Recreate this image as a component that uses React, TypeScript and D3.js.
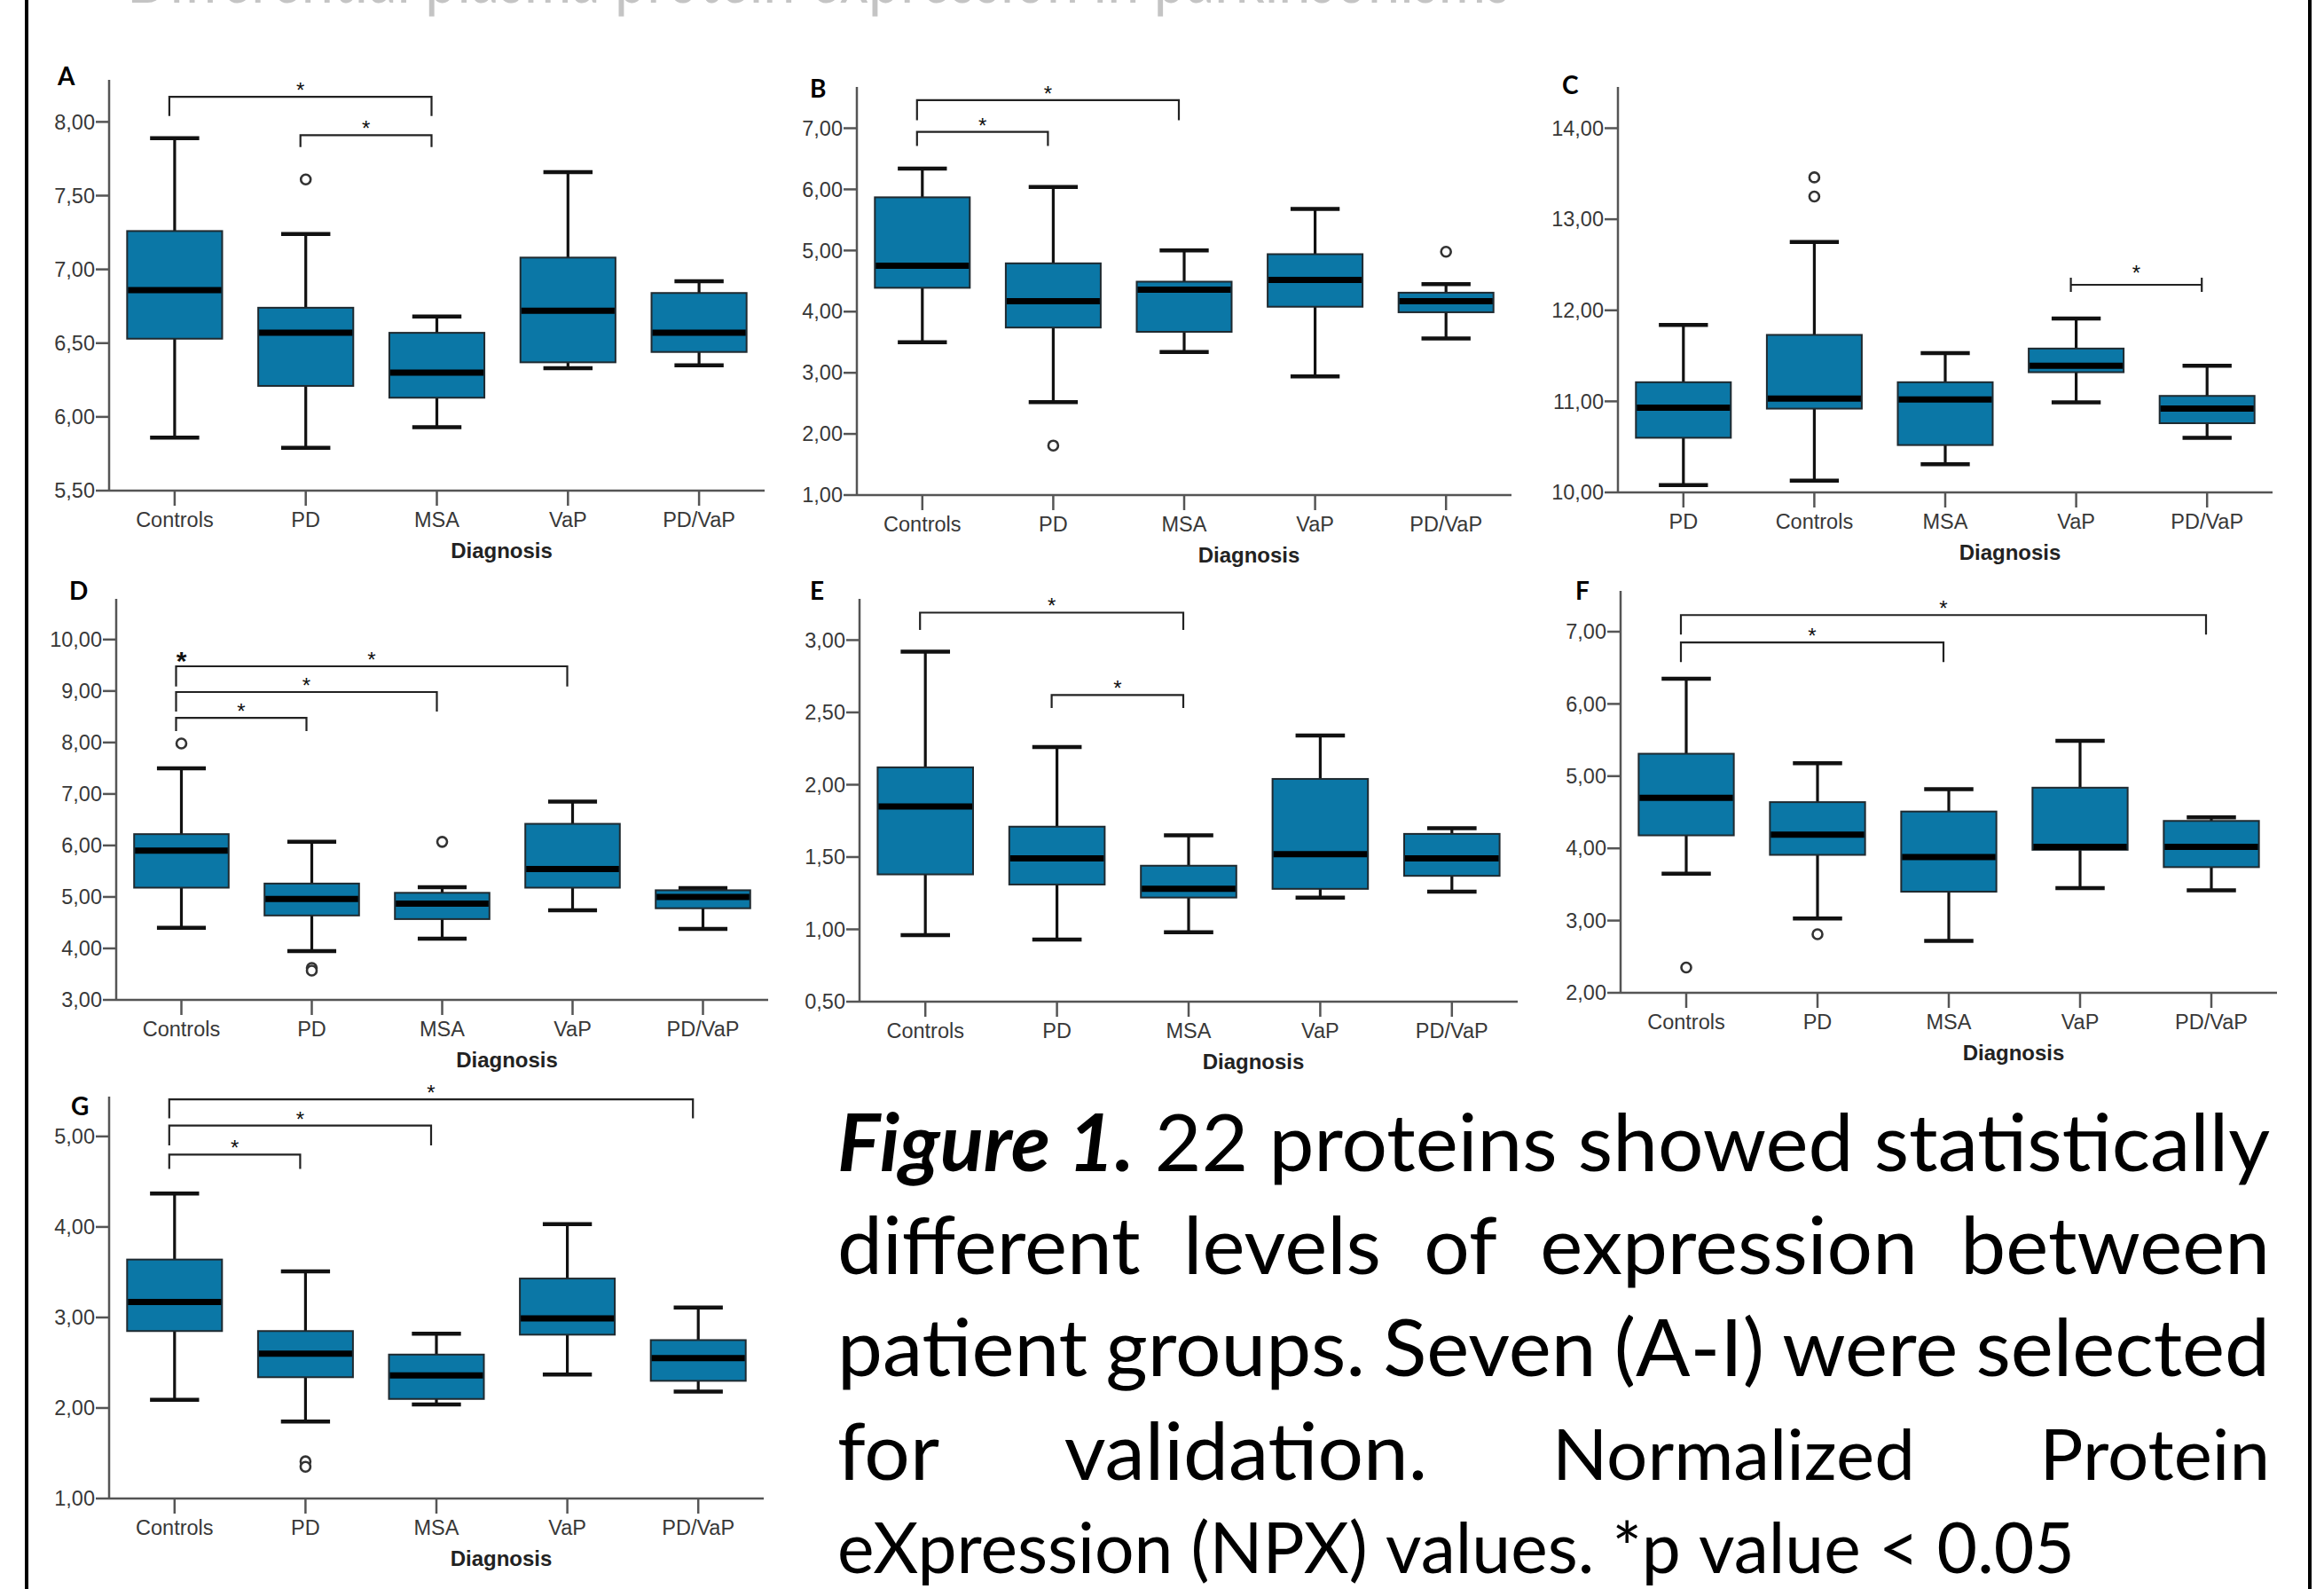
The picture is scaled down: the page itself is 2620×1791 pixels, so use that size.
import React, { useEffect, useMemo } from "react";
import * as d3 from "d3";

// ---- data -------------------------------------------------------------
const groups = ["Controls", "PD", "MSA", "VaP", "PD/VaP"];
const groupsC = ["PD", "Controls", "MSA", "VaP", "PD/VaP"];

// each row: [min, q1, median, q3, max]
const statsA = [
  [5.86, 6.53, 6.86, 7.26, 7.89],
  [5.79, 6.21, 6.57, 6.74, 7.24],
  [5.93, 6.13, 6.3, 6.57, 6.68],
  [6.33, 6.37, 6.72, 7.08, 7.66],
  [6.35, 6.44, 6.57, 6.84, 6.92],
];
const statsB = [
  [3.5, 4.39, 4.75, 5.87, 6.34],
  [2.52, 3.74, 4.17, 4.79, 6.04],
  [3.34, 3.67, 4.36, 4.49, 5.0],
  [2.94, 4.08, 4.52, 4.94, 5.68],
  [3.56, 3.99, 4.17, 4.31, 4.45],
];
const statsC = [
  [10.08, 10.6, 10.93, 11.21, 11.84],
  [10.13, 10.92, 11.03, 11.73, 12.75],
  [10.31, 10.52, 11.02, 11.21, 11.53],
  [10.99, 11.32, 11.39, 11.58, 11.91],
  [10.6, 10.76, 10.92, 11.06, 11.39],
];
const statsD = [
  [4.4, 5.18, 5.9, 6.22, 7.5],
  [3.95, 4.64, 4.96, 5.26, 6.07],
  [4.19, 4.57, 4.87, 5.08, 5.19],
  [4.74, 5.18, 5.54, 6.42, 6.85],
  [4.38, 4.78, 5.0, 5.13, 5.17],
];
const statsE = [
  [0.96, 1.38, 1.85, 2.12, 2.92],
  [0.93, 1.31, 1.49, 1.71, 2.26],
  [0.98, 1.22, 1.28, 1.44, 1.65],
  [1.22, 1.28, 1.52, 2.04, 2.34],
  [1.26, 1.37, 1.49, 1.66, 1.7],
];
const statsF = [
  [3.65, 4.18, 4.7, 5.31, 6.35],
  [3.03, 3.91, 4.19, 4.64, 5.18],
  [2.72, 3.4, 3.88, 4.51, 4.82],
  [3.45, 3.98, 4.02, 4.84, 5.49],
  [3.42, 3.74, 4.02, 4.38, 4.43],
];
const statsG = [
  [2.09, 2.85, 3.17, 3.64, 4.37],
  [1.85, 2.34, 2.6, 2.85, 3.51],
  [2.04, 2.1, 2.36, 2.59, 2.82],
  [2.37, 2.81, 2.99, 3.43, 4.03],
  [2.18, 2.3, 2.55, 2.75, 3.11],
];

const outliersA = [{ group: "PD", value: 7.61 }];
const outliersB = [{ group: "PD", value: 1.81 }, { group: "PD/VaP", value: 4.98 }];
const outliersC = [{ group: "Controls", value: 13.46 }, { group: "Controls", value: 13.25 }];
const outliersD = [
  { group: "Controls", value: 7.98 },
  { group: "PD", value: 3.62 },
  { group: "PD", value: 3.57 },
  { group: "MSA", value: 6.07 },
];
const outliersE = [];
const outliersF = [{ group: "Controls", value: 2.35 }, { group: "PD", value: 2.81 }];
const outliersG = [{ group: "PD", value: 1.41 }, { group: "PD", value: 1.35 }];

// significance brackets: line level and where the legs end
const bracketsA = [
  { from: "Controls", to: "MSA", level: 8.17, leg: 8.04 },
  { from: "PD", to: "MSA", level: 7.91, leg: 7.83 },
];
const bracketsB = [
  { from: "Controls", to: "MSA", level: 7.46, leg: 7.13 },
  { from: "Controls", to: "PD", level: 6.94, leg: 6.71 },
];
const bracketsC = [{ from: "VaP", to: "PD/VaP", level: 12.28, leg: 12.28 }];
const bracketsD = [
  { from: "Controls", to: "VaP", level: 9.48, leg: 9.09 },
  { from: "Controls", to: "MSA", level: 8.98, leg: 8.6 },
  { from: "Controls", to: "PD", level: 8.48, leg: 8.22 },
];
const bracketsE = [
  { from: "Controls", to: "MSA", level: 3.19, leg: 3.07 },
  { from: "PD", to: "MSA", level: 2.62, leg: 2.53 },
];
const bracketsF = [
  { from: "Controls", to: "PD/VaP", level: 7.23, leg: 6.96 },
  { from: "Controls", to: "MSA", level: 6.85, leg: 6.58 },
];
const bracketsG = [
  { from: "Controls", to: "PD/VaP", level: 5.41, leg: 5.2 },
  { from: "Controls", to: "MSA", level: 5.12, leg: 4.9 },
  { from: "Controls", to: "PD", level: 4.8, leg: 4.64 },
];
const extraStarsD = [{ group: "Controls", value: 9.69 }];

const ticksA = [5.5, 6, 6.5, 7, 7.5, 8];
const ticksB = [1, 2, 3, 4, 5, 6, 7];
const ticksC = [10, 11, 12, 13, 14];
const ticksD = [3, 4, 5, 6, 7, 8, 9, 10];
const ticksE = [0.5, 1, 1.5, 2, 2.5, 3];
const ticksF = [2, 3, 4, 5, 6, 7];
const ticksG = [1, 2, 3, 4, 5];

const captionLines = [
  ["Figure 1.", "22", "proteins", "showed", "statistically"],
  ["different", "levels", "of", "expression", "between"],
  ["patient", "groups.", "Seven", "(A-I)", "were", "selected"],
  ["for", "validation.", "Normalized", "Protein"],
  ["eXpression", "(NPX)", "values.", "*p", "value", "<", "0.05"],
];

// ---- layout -----------------------------------------------------------
const panels = [
  { label: "A", groups, stats: statsA, outliers: outliersA, brackets: bracketsA, ticks: ticksA, domain: [5.5, 8.285], x0: 123, x1: 862, yTop: 90, yBot: 553, lx: 65, ly: 96 },
  { label: "B", groups, stats: statsB, outliers: outliersB, brackets: bracketsB, ticks: ticksB, domain: [1, 7.675], x0: 966, x1: 1704, yTop: 98, yBot: 558, lx: 913, ly: 110 },
  { label: "C", groups: groupsC, stats: statsC, outliers: outliersC, brackets: bracketsC, ticks: ticksC, domain: [10, 14.453], x0: 1824, x1: 2562, yTop: 98, yBot: 555, lx: 1761, ly: 106, cap: true },
  { label: "D", groups, stats: statsD, outliers: outliersD, brackets: bracketsD, ticks: ticksD, domain: [3, 10.79], x0: 131, x1: 866, yTop: 675, yBot: 1127, lx: 78, ly: 676, stars: extraStarsD },
  { label: "E", groups, stats: statsE, outliers: outliersE, brackets: bracketsE, ticks: ticksE, domain: [0.5, 3.285], x0: 969, x1: 1711, yTop: 675, yBot: 1129, lx: 913, ly: 676 },
  { label: "F", groups, stats: statsF, outliers: outliersF, brackets: bracketsF, ticks: ticksF, domain: [2, 7.565], x0: 1827, x1: 2567, yTop: 666, yBot: 1119, lx: 1776, ly: 676 },
  { label: "G", groups, stats: statsG, outliers: outliersG, brackets: bracketsG, ticks: ticksG, domain: [1, 5.44], x0: 123, x1: 861, yTop: 1236, yBot: 1689, lx: 80, ly: 1257 },
];

const BOX_FILL = "#0b77a6";
const AXIS = "#555";
const LABEL_FONT = "'Liberation Sans', Arial, sans-serif";
const CAPTION_FONT = "Lato, 'Open Sans', sans-serif";
const fmt = (v) => d3.format(".2f")(v).replace(".", ",");

function BoxPanel({ p }) {
  const x = d3.scaleBand().domain(p.groups).range([p.x0, p.x1]);
  const y = d3.scaleLinear().domain(p.domain).range([p.yBot, p.yTop]);
  const bw = x.bandwidth();
  const cx = (g) => x(g) + bw / 2;
  const boxW = bw * 0.725;
  const capW = bw * 0.375;
  const mid = (p.x0 + p.x1) / 2;

  return (
    <g>
      <text x={p.lx} y={p.ly} fontFamily={CAPTION_FONT} fontWeight="bold" fontSize={28} fill="#000">
        {p.label}
      </text>

      {/* y axis */}
      <line x1={p.x0} x2={p.x0} y1={p.yTop} y2={p.yBot} stroke={AXIS} strokeWidth={2.5} />
      {p.ticks.map((t) => (
        <g key={t}>
          <line x1={p.x0 - 15} x2={p.x0} y1={y(t)} y2={y(t)} stroke={AXIS} strokeWidth={2.5} />
          <text
            x={p.x0 - 16}
            y={y(t)}
            dy="0.35em"
            textAnchor="end"
            fontFamily={LABEL_FONT}
            fontSize={23.5}
            fill="#383838"
          >
            {fmt(t)}
          </text>
        </g>
      ))}

      {/* x axis */}
      <line x1={p.x0} x2={p.x1} y1={p.yBot} y2={p.yBot} stroke={AXIS} strokeWidth={2.5} />
      {p.groups.map((g) => (
        <g key={g}>
          <line x1={cx(g)} x2={cx(g)} y1={p.yBot} y2={p.yBot + 17} stroke={AXIS} strokeWidth={2.5} />
          <text x={cx(g)} y={p.yBot + 41} textAnchor="middle" fontFamily={LABEL_FONT} fontSize={23.5} fill="#383838">
            {g}
          </text>
        </g>
      ))}
      <text x={mid + 73} y={p.yBot + 76} textAnchor="middle" fontFamily={LABEL_FONT} fontWeight="bold" fontSize={24} fill="#222">
        Diagnosis
      </text>

      {/* boxes */}
      {p.stats.map(([mn, q1, md, q3, mx], i) => {
        const c = cx(p.groups[i]);
        return (
          <g key={i}>
            <line x1={c} x2={c} y1={y(q3)} y2={y(mx)} stroke="#111" strokeWidth={3.2} />
            <line x1={c} x2={c} y1={y(q1)} y2={y(mn)} stroke="#111" strokeWidth={3.2} />
            <line x1={c - capW / 2} x2={c + capW / 2} y1={y(mx)} y2={y(mx)} stroke="#111" strokeWidth={4.5} />
            <line x1={c - capW / 2} x2={c + capW / 2} y1={y(mn)} y2={y(mn)} stroke="#111" strokeWidth={4.5} />
            <rect
              x={c - boxW / 2}
              y={y(q3)}
              width={boxW}
              height={y(q1) - y(q3)}
              fill={BOX_FILL}
              stroke="#1f2a30"
              strokeWidth={2}
            />
            <line x1={c - boxW / 2 + 1} x2={c + boxW / 2 - 1} y1={y(md)} y2={y(md)} stroke="#000" strokeWidth={7} />
          </g>
        );
      })}

      {/* outliers */}
      {p.outliers.map((o, i) => (
        <circle key={i} cx={cx(o.group)} cy={y(o.value)} r={5.5} fill="#fff" stroke="#333" strokeWidth={2.6} />
      ))}

      {/* significance */}
      {p.brackets.map((b, i) => {
        const a = cx(b.from) - 6;
        const e = cx(b.to) - 6;
        const ly = y(b.level);
        if (p.cap) {
          return (
            <g key={i} stroke="#222" strokeWidth={2.2}>
              <line x1={a} x2={e} y1={ly} y2={ly} />
              <line x1={a} x2={a} y1={ly - 8} y2={ly + 8} />
              <line x1={e} x2={e} y1={ly - 8} y2={ly + 8} />
              <text x={(a + e) / 2} y={ly - 5} textAnchor="middle" fontFamily={LABEL_FONT} fontSize={24} fill="#111" stroke="none">
                *
              </text>
            </g>
          );
        }
        return (
          <g key={i}>
            <path
              d={`M${a},${y(b.leg)}V${ly}H${e}V${y(b.leg)}`}
              fill="none"
              stroke="#222"
              strokeWidth={2.2}
            />
            <text x={(a + e) / 2} y={ly + 1} textAnchor="middle" fontFamily={LABEL_FONT} fontSize={24} fill="#111">
              *
            </text>
          </g>
        );
      })}
      {(p.stars || []).map((s, i) => (
        <text key={i} x={cx(s.group)} y={y(s.value) + 16} textAnchor="middle" fontFamily={LABEL_FONT} fontWeight="bold" fontSize={30} fill="#111">
          *
        </text>
      ))}
    </g>
  );
}

// ---- caption ----------------------------------------------------------
const CAP_LEFT = 944;
const CAP_RIGHT = 2559;
const CAP_LAST_RIGHT = 2339;
const CAP_BASE = [1320, 1436, 1551, 1668, 1773];
const CAP_SIZE = 89;
const CAP_SMALL = 80;

function isSmall(li, wi) {
  return li === 4 || (li === 3 && wi >= 2);
}

function Caption() {
  const layout = useMemo(() => {
    const ctx = document.createElement("canvas").getContext("2d");
    const measure = (txt, size, style) => {
      ctx.font = `${style} ${size}px Lato, 'Open Sans', sans-serif`;
      return ctx.measureText(txt).width;
    };
    const styleOf = (li, wi) => (li === 0 && wi === 0 ? "italic bold" : "normal");
    const sizeOf = (li, wi) => (isSmall(li, wi) ? CAP_SMALL : CAP_SIZE);
    const widths = captionLines.map((ws, li) => ws.map((w, wi) => measure(w, sizeOf(li, wi), styleOf(li, wi))));
    const space = measure(" ", CAP_SIZE, "normal");
    const natural0 = d3.sum(widths[0]) + space * (widths[0].length - 1);
    const h = (CAP_RIGHT - CAP_LEFT) / natural0;
    return captionLines.map((ws, li) => {
      let sw = widths[li].map((w) => w * h);
      let gap;
      if (li === 4) {
        // last line: left aligned, natural spacing, fitted to the reference width
        const sp = measure(" ", CAP_SMALL, "normal");
        const nat = d3.sum(widths[li]) + sp * (ws.length - 1);
        const k = (CAP_LAST_RIGHT - CAP_LEFT) / nat;
        sw = widths[li].map((w) => w * k);
        gap = sp * k;
      } else {
        gap = (CAP_RIGHT - CAP_LEFT - d3.sum(sw)) / (ws.length - 1);
      }
      let xx = CAP_LEFT;
      return ws.map((w, wi) => {
        const item = { text: w, x: xx, w: sw[wi], size: sizeOf(li, wi), style: styleOf(li, wi), y: CAP_BASE[li] };
        xx += sw[wi] + gap;
        return item;
      });
    });
  }, []);

  return (
    <g>
      {layout.flat().map((d, i) => (
        <text
          key={i}
          x={d.x}
          y={d.y}
          fontFamily={CAPTION_FONT}
          fontSize={d.size}
          fontStyle={d.style.includes("italic") ? "italic" : "normal"}
          fontWeight={d.style.includes("bold") ? "bold" : "normal"}
          textLength={d.w}
          lengthAdjust="spacingAndGlyphs"
          fill="#000"
        >
          {d.text}
        </text>
      ))}
    </g>
  );
}

export default function App() {
  useEffect(() => {
    document.body.style.margin = "0";
  }, []);

  return (
    <svg width={2620} height={1791} style={{ display: "block", background: "#fff" }}>
      <rect width={2620} height={1791} fill="#fff" />
      {/* header line of the page, cut off at the top edge */}
      <text x={143} y={3} fontFamily={CAPTION_FONT} fontSize={90} fill="#c4c4c4" textLength={1560} lengthAdjust="spacingAndGlyphs">
        Differential plasma protein expression in parkinsonisms
      </text>
      <line x1={30} x2={30} y1={0} y2={1791} stroke="#000" strokeWidth={4} />
      <line x1={2604} x2={2604} y1={0} y2={1791} stroke="#000" strokeWidth={4} />
      {panels.map((p) => (
        <BoxPanel key={p.label} p={p} />
      ))}
      <Caption />
    </svg>
  );
}
